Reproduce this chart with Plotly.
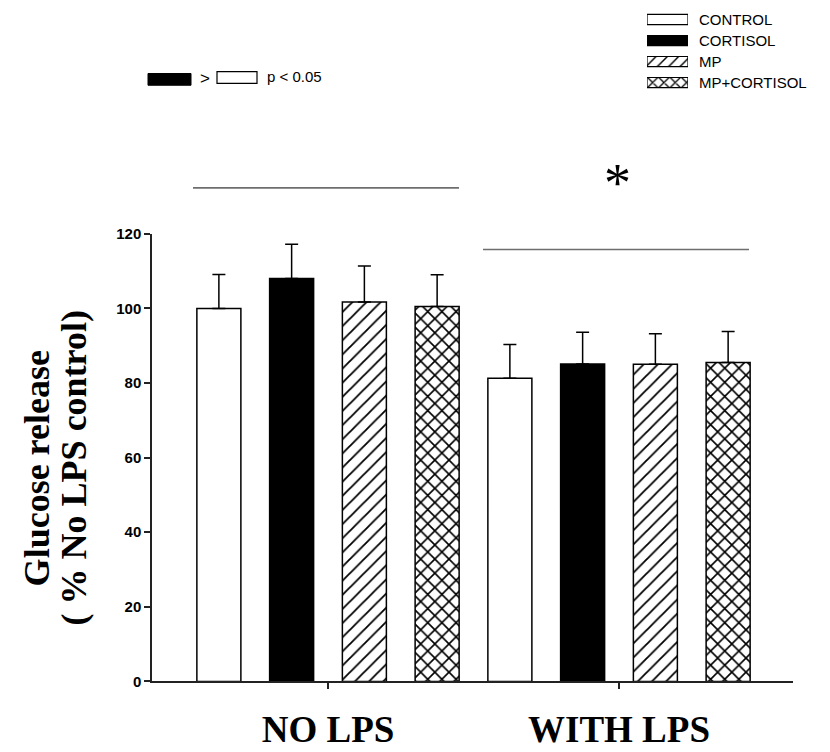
import plotly.graph_objects as go

# ---- data -------------------------------------------------------------
groups = ["NO LPS", "WITH LPS"]
treatments = ["CONTROL", "CORTISOL", "MP", "MP+CORTISOL"]
glucose = {
    "CONTROL":     [100.0, 81.3],
    "CORTISOL":    [108.0, 85.1],
    "MP":          [101.7, 85.0],
    "MP+CORTISOL": [100.5, 85.5],
}
sem = {
    "CONTROL":     [9.1, 9.0],
    "CORTISOL":    [9.2, 8.5],
    "MP":          [9.7, 8.2],
    "MP+CORTISOL": [8.5, 8.3],
}
y_ticks = [0, 20, 40, 60, 80, 100, 120]

# ---- styling ----------------------------------------------------------
W, H = 830, 752
styles = {
    "CONTROL":     dict(color="white", pattern=None, solidity=0),
    "CORTISOL":    dict(color="black", pattern=None, solidity=0),
    "MP":          dict(color="white", pattern="/", solidity=0.18),
    "MP+CORTISOL": dict(color="white", pattern="x", solidity=0.3),
}
SANS = "Liberation Sans, Arial, sans-serif"
SERIF = "Liberation Serif, Times New Roman, serif"


def px_x(px):
    return px / W


def px_y(py):
    return 1 - py / H


def marker_for(name, lw=1.5, size=10):
    st = styles[name]
    m = dict(color=st["color"], line=dict(color="black", width=lw))
    if st["pattern"]:
        m["pattern"] = dict(shape=st["pattern"], size=size, solidity=st["solidity"],
                            fgcolor="black", bgcolor="white", fillmode="replace")
    return m


fig = go.Figure()
xpos = list(range(len(groups)))

for name in treatments:
    fig.add_trace(go.Bar(
        x=xpos, y=glucose[name], name=name, showlegend=False,
        marker=marker_for(name),
        error_y=dict(type="data", array=sem[name], arrayminus=[0] * len(groups),
                     symmetric=False, color="black", thickness=1.5, width=6.5),
        xaxis="x", yaxis="y",
    ))

# legend swatches drawn as bars on a small auxiliary axis pair
for i, name in enumerate(treatments):
    fig.add_trace(go.Bar(
        x=[1], y=[i], base=0, orientation="h", width=0.48, showlegend=False,
        marker=marker_for(name, lw=1.2, size=8), xaxis="x2", yaxis="y2",
        hoverinfo="skip",
    ))

plot_left, plot_right, plot_top, plot_bottom = 152, 793, 230, 688
unit = 291.0  # px between the two group centres
x0 = (plot_left - 328) / unit
x1 = (plot_right - 328) / unit

fig.update_layout(
    width=W, height=H,
    margin=dict(l=0, r=0, t=0, b=0),
    paper_bgcolor="white", plot_bgcolor="white",
    barmode="group", bargap=0.0, bargroupgap=0.395,
    xaxis=dict(domain=[px_x(plot_left), px_x(plot_right)], range=[x0, x1],
               tickvals=xpos, ticktext=groups, showgrid=False, zeroline=False,
               showline=True, linecolor="#222", linewidth=1.5,
               ticks="outside", ticklen=6, tickwidth=1.5, tickcolor="#222",
               ticklabelstandoff=8,
               tickfont=dict(family=SERIF, size=37, color="black", weight="bold"),
               anchor="y"),
    yaxis=dict(domain=[px_y(plot_bottom), px_y(plot_top)], range=[0, 120],
               tickvals=y_ticks, showgrid=False, zeroline=False,
               showline=True, linecolor="#222", linewidth=1.5,
               ticks="outside", ticklen=6, tickwidth=1.5, tickcolor="#222",
               tickfont=dict(family=SANS, size=15, color="black", weight="bold"),
               anchor="x"),
    xaxis2=dict(domain=[px_x(647), px_x(688)], range=[0, 1], visible=False,
                anchor="y2", fixedrange=True),
    yaxis2=dict(domain=[px_y(86), px_y(0)], range=[3.5, -0.5], visible=False,
                anchor="x2", fixedrange=True),
)

annotations = []
shapes = []

# legend labels
for i, name in enumerate(treatments):
    annotations.append(dict(x=px_x(697), y=px_y(10.75 + 21.5 * i), xref="paper", yref="paper",
                            text=name, showarrow=False, xanchor="left", yanchor="middle",
                            font=dict(family=SANS, size=15, color="black")))

# significance key: CORTISOL > CONTROL
shapes.append(dict(type="rect", xref="paper", yref="paper",
                   x0=px_x(148), x1=px_x(191), y0=px_y(78), y1=px_y(66),
                   fillcolor="black", line=dict(color="black", width=1)))
shapes.append(dict(type="rect", xref="paper", yref="paper",
                   x0=px_x(217), x1=px_x(257), y0=px_y(76), y1=px_y(64),
                   fillcolor="white", line=dict(color="black", width=1.2)))
annotations.append(dict(x=px_x(205), y=px_y(71), xref="paper", yref="paper", text=">",
                        showarrow=False, xanchor="center", yanchor="middle",
                        font=dict(family=SANS, size=17, color="black")))
annotations.append(dict(x=px_x(265), y=px_y(69), xref="paper", yref="paper", text="p < 0.05",
                        showarrow=False, xanchor="left", yanchor="middle",
                        font=dict(family=SANS, size=15, color="black")))

# group bars above each treatment set
for (a, b, yy) in [(193, 459, 183), (483, 749, 246)]:
    shapes.append(dict(type="line", xref="paper", yref="paper",
                       x0=px_x(a), x1=px_x(b), y0=px_y(yy), y1=px_y(yy),
                       line=dict(color="#6e6e6e", width=1.6)))

annotations.append(dict(x=px_x(617), y=px_y(178), xref="paper", yref="paper", text="*",
                        showarrow=False, xanchor="center", yanchor="middle",
                        font=dict(family=SERIF, size=54, color="black")))

# y axis title, one annotation per line
title_lines = ["Glucose release", "( % No LPS control)"]
for txt, cx in zip(title_lines, [37, 74]):
    annotations.append(dict(x=px_x(cx), y=px_y(470), xref="paper", yref="paper",
                            text=txt, textangle=-90,
                            showarrow=False, xanchor="center", yanchor="middle",
                            font=dict(family=SERIF, size=36, color="black", weight="bold")))

fig.update_layout(annotations=annotations, shapes=shapes)
fig.write_html("out.html")
